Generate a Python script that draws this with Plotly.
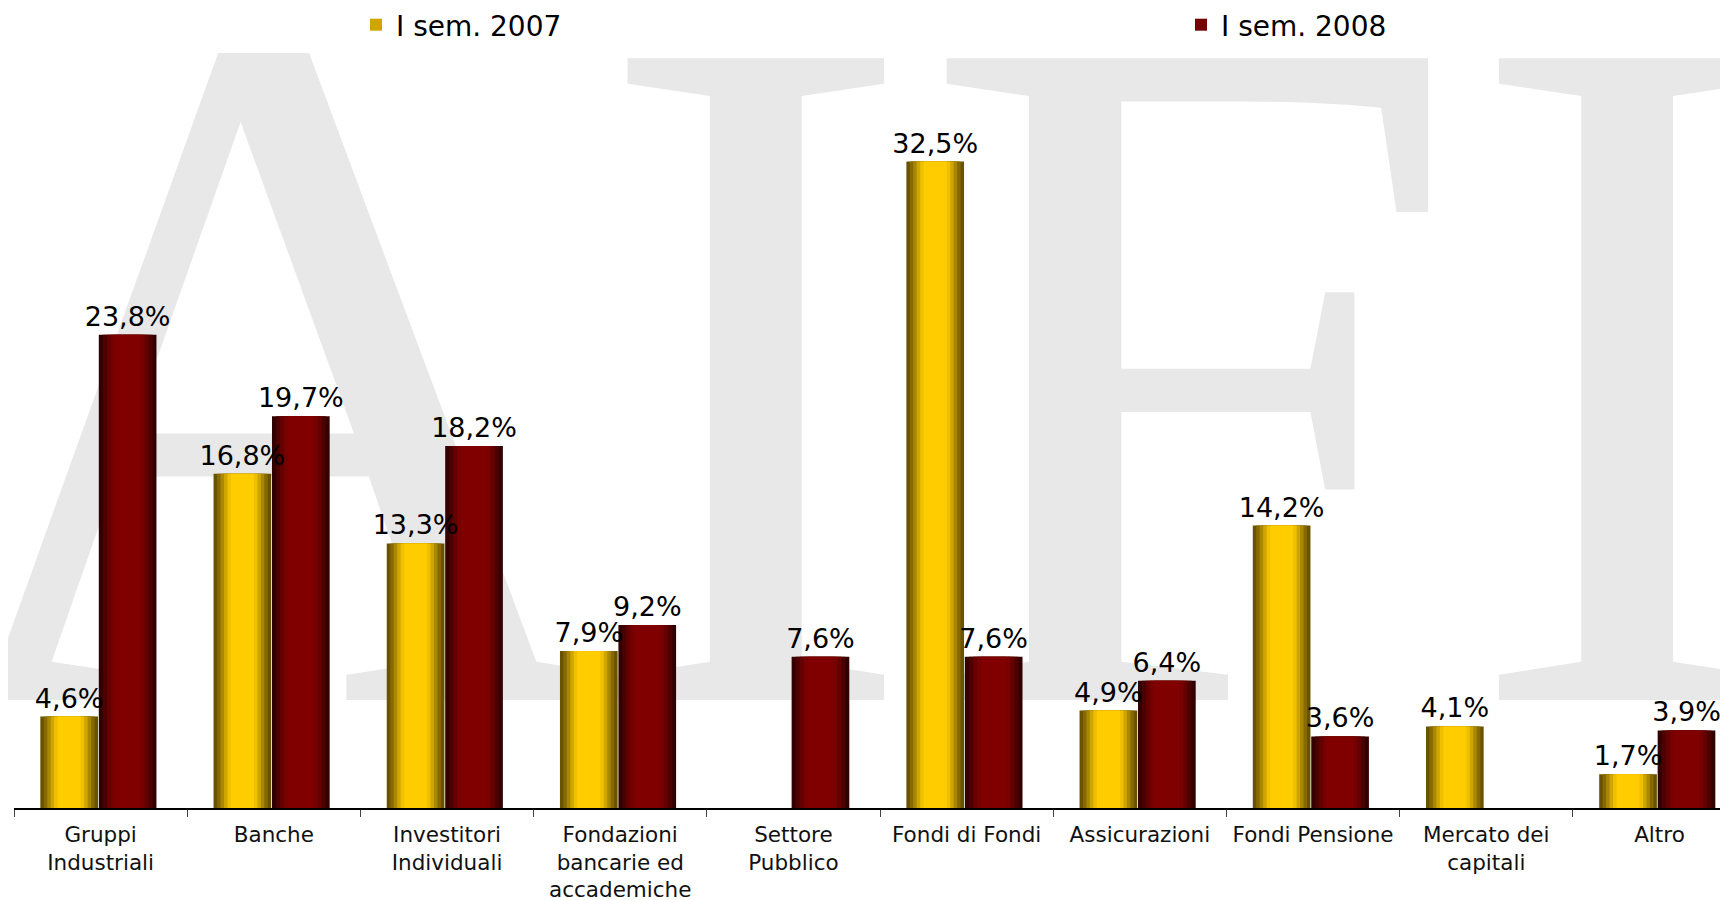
import plotly.graph_objects as go

# ---------------- data ----------------
categories = ["Gruppi<br>Industriali", "Banche", "Investitori<br>Individuali",
              "Fondazioni<br>bancarie ed<br>accademiche", "Settore<br>Pubblico",
              "Fondi di Fondi", "Assicurazioni", "Fondi Pensione",
              "Mercato dei<br>capitali", "Altro"]
sem_2007 = [4.6, 16.8, 13.3, 7.9, None, 32.5, 4.9, 14.2, 4.1, 1.7]
sem_2008 = [23.8, 19.7, 18.2, 9.2, 7.6, 7.6, 6.4, 3.6, None, 3.9]
series_names = ["I sem. 2007", "I sem. 2008"]
watermark_parts = ["A", "IFI"]


def fmt(v):
    return None if v is None else f"{v:.1f}".replace(".", ",") + "%"


BAR_W = 0.333
series_style = [
    dict(values=sem_2007, name=series_names[0], center=-0.1815,
         layers=[(1.00, "#6a5300"), (0.88, "#866a00"), (0.76, "#a98700"),
                 (0.64, "#cfa600"), (0.52, "#f0c000"), (0.40, "#ffcc00")],
         legend_layer=3),
    dict(values=sem_2008, name=series_names[1], center=0.156,
         layers=[(1.00, "#330000"), (0.86, "#4c0000"), (0.72, "#640000"),
                 (0.58, "#770000"), (0.44, "#800000")],
         legend_layer=3),
]

fig = go.Figure()

# background watermark (base subplot, drawn beneath the bars)
wm_x = [271, 1191]
wm_y = [455, 455]
fig.add_trace(go.Scatter(
    x=wm_x, y=wm_y, mode="text", text=watermark_parts,
    textposition="middle center",
    textfont=dict(family="Liberation Serif", size=980, color="#e8e8e8"),
    cliponaxis=False, showlegend=False, hoverinfo="skip",
    xaxis="x", yaxis="y"))

# gradient bars: nested, centred layers
for s in series_style:
    for i, (frac, col) in enumerate(s["layers"]):
        w = BAR_W * frac
        fig.add_trace(go.Bar(
            x=categories, y=s["values"], width=w,
            offset=s["center"] - w / 2,
            marker=dict(color=col, line=dict(width=0)),
            name=s["name"], showlegend=(i == s["legend_layer"]),
            hoverinfo="skip", xaxis="x2", yaxis="y2"))

# value labels on top of everything
for s in series_style:
    fig.add_trace(go.Bar(
        x=categories, y=s["values"], width=BAR_W,
        offset=s["center"] - BAR_W / 2,
        marker=dict(color="rgba(0,0,0,0)", line=dict(width=0)),
        text=[fmt(v) for v in s["values"]], textposition="outside",
        constraintext="none", cliponaxis=False, textangle=0,
        outsidetextfont=dict(family="DejaVu Sans", size=27, color="black"),
        showlegend=False, hoverinfo="skip", xaxis="x2", yaxis="y2"))

fig.update_layout(
    width=1736, height=892,
    margin=dict(l=6, r=0, t=84, b=92, autoexpand=False),
    paper_bgcolor="white", plot_bgcolor="rgba(0,0,0,0)",
    barmode="overlay",
    font=dict(family="DejaVu Sans", color="black"),
    xaxis=dict(range=[14, 1744], visible=False),
    yaxis=dict(range=[808, 92], visible=False),
    xaxis2=dict(overlaying="x", anchor="y2", type="category",
                categoryorder="array", categoryarray=categories,
                range=[-0.5, 9.488], showline=True, linecolor="black",
                linewidth=1.5, ticks="outside", tickson="boundaries",
                ticklen=7, tickcolor="#444", tickwidth=1,
                ticklabelstandoff=6,
                tickfont=dict(family="DejaVu Sans", size=21.5, color="#111"),
                showgrid=False, zeroline=False),
    yaxis2=dict(overlaying="y", anchor="x2", range=[0, 36], visible=False),
    legend=dict(orientation="h", xref="container", yref="paper",
                x=348 / 1736, y=1 + 92 / 716, xanchor="left", yanchor="top",
                entrywidth=780, font=dict(family="DejaVu Sans", size=28),
                bgcolor="rgba(0,0,0,0)"),
    showlegend=True,
)

fig.write_html("out.html")
